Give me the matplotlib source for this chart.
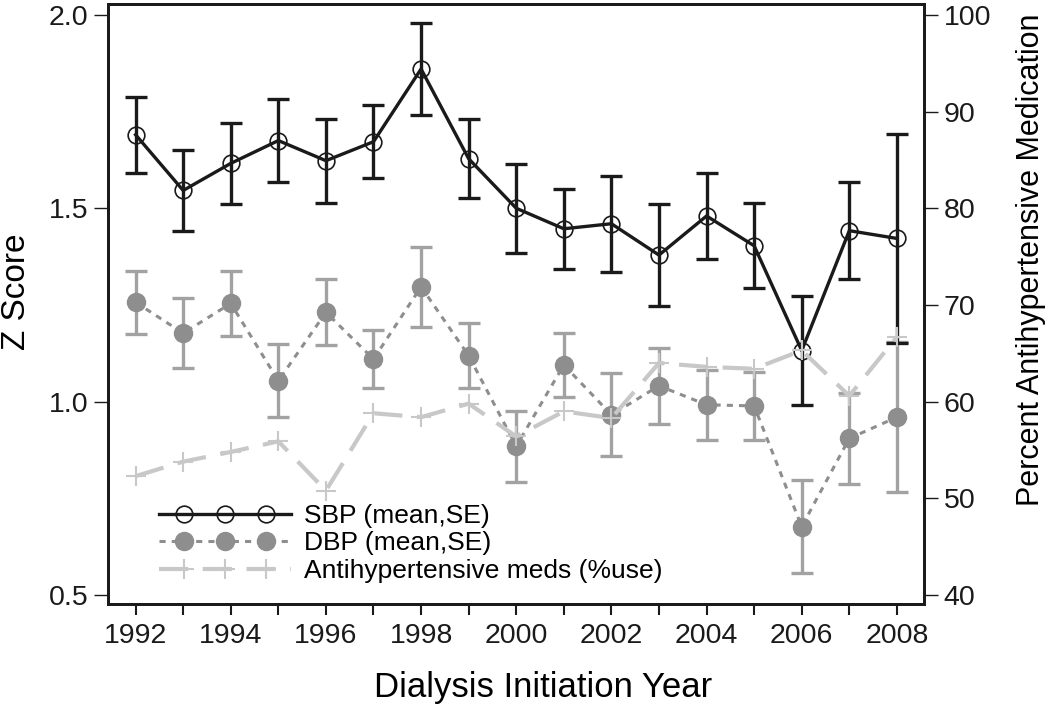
import matplotlib
matplotlib.use("Agg")
import matplotlib.pyplot as plt
from matplotlib.legend_handler import HandlerLine2D
from matplotlib.lines import Line2D
import numpy as np

plt.rcParams['font.family'] = ['Liberation Sans', 'DejaVu Sans']

years = [1992, 1993, 1994, 1995, 1996, 1997, 1998, 1999, 2000,
         2001, 2002, 2003, 2004, 2005, 2006, 2007, 2008]
sbp_mean = [1.690, 1.546, 1.616, 1.675, 1.623, 1.672, 1.860, 1.628, 1.500,
            1.447, 1.460, 1.379, 1.480, 1.403, 1.132, 1.442, 1.422]
sbp_se = [0.098, 0.105, 0.105, 0.107, 0.109, 0.094, 0.118, 0.102, 0.115,
          0.103, 0.124, 0.131, 0.112, 0.110, 0.140, 0.125, 0.270]
dbp_mean = [1.257, 1.177, 1.254, 1.054, 1.231, 1.110, 1.297, 1.119, 0.885,
            1.095, 0.966, 1.041, 0.992, 0.989, 0.677, 0.905, 0.960]
dbp_se = [0.081, 0.090, 0.084, 0.094, 0.085, 0.075, 0.103, 0.084, 0.092,
          0.082, 0.107, 0.099, 0.090, 0.087, 0.120, 0.117, 0.193]
meds_pct = [52.3, 53.8, 54.8, 55.9, 50.8, 58.8, 58.4, 59.8, 56.4,
            59.0, 58.3, 64.0, 63.6, 63.4, 65.3, 60.6, 66.7]

xtick_labels = ['1992', '1994', '1996', '1998', '2000', '2002', '2004', '2006', '2008']
left_ticks = [0.5, 1.0, 1.5, 2.0]
right_ticks = [40, 50, 60, 70, 80, 90, 100]


class FullLineHandler(HandlerLine2D):
    """Line across the full handle width, markers inset."""
    def create_artists(self, legend, orig_handle, xdescent, ydescent,
                       width, height, fontsize, trans):
        y0 = (height - ydescent) / 2
        legline = Line2D([-xdescent, -xdescent + width], [y0, y0])
        self.update_prop(legline, orig_handle, legend)
        legline.set_marker('None')
        pad = 0.95 * fontsize
        xm = np.linspace(-xdescent + pad, -xdescent + width - pad, 3)
        legmarker = Line2D(xm, np.full(3, y0))
        self.update_prop(legmarker, orig_handle, legend)
        legmarker.set_linestyle('None')
        legline.set_transform(trans)
        legmarker.set_transform(trans)
        return [legline, legmarker]


fig = plt.figure(figsize=(10.5, 7.04), dpi=100)
ax = fig.add_axes([108/1050, 100/704, 816/1050, 600/704])
ax2 = ax.twinx()

zlim = (0.477, 2.028)
ax.set_ylim(*zlim)
ax2.set_ylim(40 + (zlim[0]-0.5)*40, 40 + (zlim[1]-0.5)*40)
ax.set_xlim(1991.42, 2008.57)

# DBP
dbp_col = '#8e8e8e'
ax.errorbar(years, dbp_mean, yerr=dbp_se, fmt='none', ecolor='#a2a2a2',
            elinewidth=2.4, capsize=8, capthick=2.4, zorder=2)
h_dbp, = ax.plot(years, dbp_mean, linestyle=(0, (2, 2)), color=dbp_col, lw=2.2,
                 marker='o', ms=13, mfc=dbp_col, mec=dbp_col, zorder=3,
                 label='DBP (mean,SE)')

# SBP
ax.errorbar(years, sbp_mean, yerr=sbp_se, fmt='none', ecolor='#1a1a1a',
            elinewidth=2.4, capsize=8, capthick=2.4, zorder=4)
h_sbp, = ax.plot(years, sbp_mean, linestyle='-', color='#1a1a1a', lw=2.4,
                 marker='o', ms=12, mfc='none', mec='#1a1a1a', mew=1.2, zorder=5,
                 label='SBP (mean,SE)')

# Meds
h_med, = ax2.plot(years, meds_pct, linestyle=(0, (7, 3.5)), color='#c8c8c8', lw=3,
                  marker='+', ms=14, mew=1.5, mec='#c8c8c8', zorder=3,
                  label='Antihypertensive meds (%use)')

ax.set_xticks(years)
ax.set_xticklabels([str(y) if str(y) in xtick_labels else '' for y in years])
ax.set_yticks(left_ticks)
ax.set_yticklabels([f'{t:.1f}' for t in left_ticks])
ax2.set_yticks(right_ticks)

for a in (ax, ax2):
    for s in a.spines.values():
        s.set_linewidth(2)
        s.set_color('#1a1a1a')
    a.tick_params(direction='out', length=8, width=1.5, labelsize=20.5, colors='#1a1a1a')
ax.tick_params(axis='y', length=10, width=1, pad=4)
ax2.tick_params(axis='y', length=10, width=1, pad=4)
ax.tick_params(axis='x', pad=6)

ax.set_xlabel('Dialysis Initiation Year', fontsize=25)
ax.xaxis.set_label_coords(0.533, -0.112)
ax.set_ylabel('Z Score', fontsize=24)
ax.yaxis.set_label_coords(-0.093, 0.52)
ax2.set_ylabel('Percent Antihypertensive Medication', fontsize=22)
ax2.yaxis.set_label_coords(1.113, 0.573)

handler = FullLineHandler()
leg = ax2.legend(handles=[h_sbp, h_dbp, h_med], loc='lower left',
                 bbox_to_anchor=(0.04, 0.004), frameon=False,
                 handlelength=5.0, fontsize=19, labelspacing=0.14,
                 handletextpad=0.5, borderpad=0.2,
                 handler_map={h_sbp: handler, h_dbp: handler, h_med: handler})

fig.savefig('out.png', dpi=100)
